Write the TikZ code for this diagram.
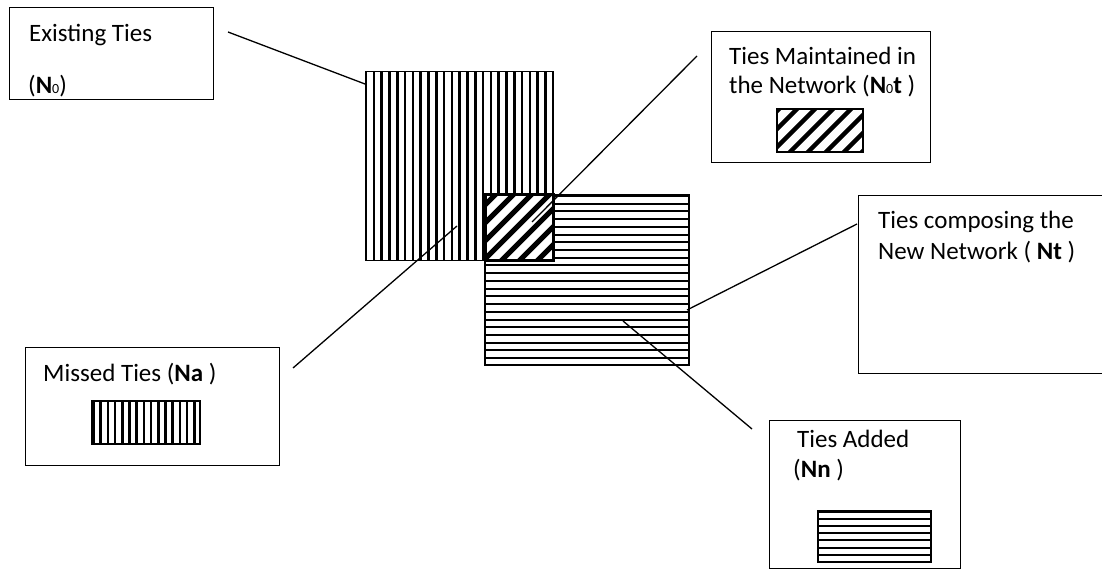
\documentclass[tikz,border=0pt]{standalone}
\usepackage{fontspec}
\setmainfont{Carlito}
\usetikzlibrary{positioning}
\newcommand{\tiesub}[1]{{\fontsize{14}{14}\selectfont #1}}

\begin{document}
\begin{tikzpicture}[
    x=1pt,
    y=-1pt,
    font=\fontsize{25}{30}\selectfont,
    tiebox/.style={
		draw=black,
		line width=1.3pt,
		anchor=north west,
		inner sep=0pt,
		fill=white
	},
	label/.style={
		anchor=base west,
		inner sep=0pt
	},
	leader/.style={
		draw=black,
		line width=1.3pt
	},
	vstripe/.style={line width=2.6pt},
	hstripe/.style={line width=2pt},
	dstripe/.style={line width=5pt}
  ]
\useasboundingbox (0,0) rectangle (1102,569);

% // Existing ties
\begin{scope}
\clip (365,72) rectangle (553,260);
\foreach \k in {0,...,24} \draw [vstripe] ({366+\k*7.8},72) -- ++(0,188);
\end{scope}
\draw [line width=1pt] (365,72) rectangle (553,260);

% // New network
\fill [white] (485,195) rectangle (689,365);
\begin{scope}
\clip (485,195) rectangle (689,365);
\foreach \k in {0,...,22} \draw [hstripe] (485,{196+\k*7.72}) -- ++(204,0);
\end{scope}
\draw [line width=1.5pt] (485,195) rectangle (689,365);

% // Maintained ties (overlap)
\fill [white] (485,195) rectangle (553,260);
\begin{scope}
\clip (485,195) rectangle (553,260);
\foreach \s in {672,690,...,830} \draw [dstripe] ({\s-262},262) -- ({\s-193},193);
\end{scope}
\draw [line width=3pt] (485,195) rectangle (553,260);

% // Label boxes
\node [tiebox, minimum width=204pt, minimum height=92pt] (existbox) at (9,7) {};
\node [label] (existtxt) at (29,42) {Existing Ties};
\node [label] (existsym) at (28,94) {(\textbf{N}\tiesub{0})};

\node [tiebox, minimum width=219pt, minimum height=131pt] (keptbox) at (711,31) {};
\node [label] (kepttxt) at (729,65) {Ties Maintained in};
\node [label] (keptsym) at (729,94) {the Network (\textbf{N}\tiesub{0}\textbf{t} )};

\node [tiebox, minimum width=260pt, minimum height=178pt] (newbox) at (858,195) {};
\node [label] (newtxt) at (878,229) {Ties composing the};
\node [label] (newsym) at (878,259) {New Network ( \textbf{Nt} )};

\node [tiebox, minimum width=254pt, minimum height=118pt] (missbox) at (25,347) {};
\node [label] (misstxt) at (43,381) {Missed Ties (\textbf{Na} )};

\node [tiebox, minimum width=191pt, minimum height=148pt] (addbox) at (769,420) {};
\node [label] (addtxt) at (797,447) {Ties Added};
\node [label] (addsym) at (793,477) {(\textbf{Nn} )};

% // Legend swatches
\begin{scope}
\clip (777,109) rectangle (863,152);
\foreach \s in {870,888,...,1030} \draw [line width=4.5pt] ({\s-154},154) -- ({\s-107},107);
\end{scope}
\draw [line width=1.3pt] (777,109) rectangle (863,152);

\foreach \k in {0,...,14} \draw [vstripe] ({93.5+\k*7.2},401) -- ++(0,43);
\draw [line width=1.3pt] (92,401) rectangle (200,444);

\foreach \k in {0,...,7} \draw [hstripe] (818,{511.5+\k*7.2}) -- ++(113,0);
\draw [line width=1.3pt] (818,511) rectangle (931,562);

% // Leaders
\coordinate (existend) at (228,32);
\coordinate (existtip) at (365,84);
\coordinate (keptend) at (697,56);
\coordinate (kepttip) at (532,222);
\coordinate (newend) at (857,224);
\coordinate (newtip) at (687,310);
\coordinate (missend) at (293,368);
\coordinate (misstip) at (457,226);
\coordinate (addend) at (752,429);
\coordinate (addtip) at (623,321);

\draw [leader] (existend) -- (existtip);
\draw [leader] (keptend) -- (kepttip);
\draw [leader] (newend) -- (newtip);
\draw [leader] (missend) -- (misstip);
\draw [leader] (addend) -- (addtip);

\end{tikzpicture}
\end{document}
